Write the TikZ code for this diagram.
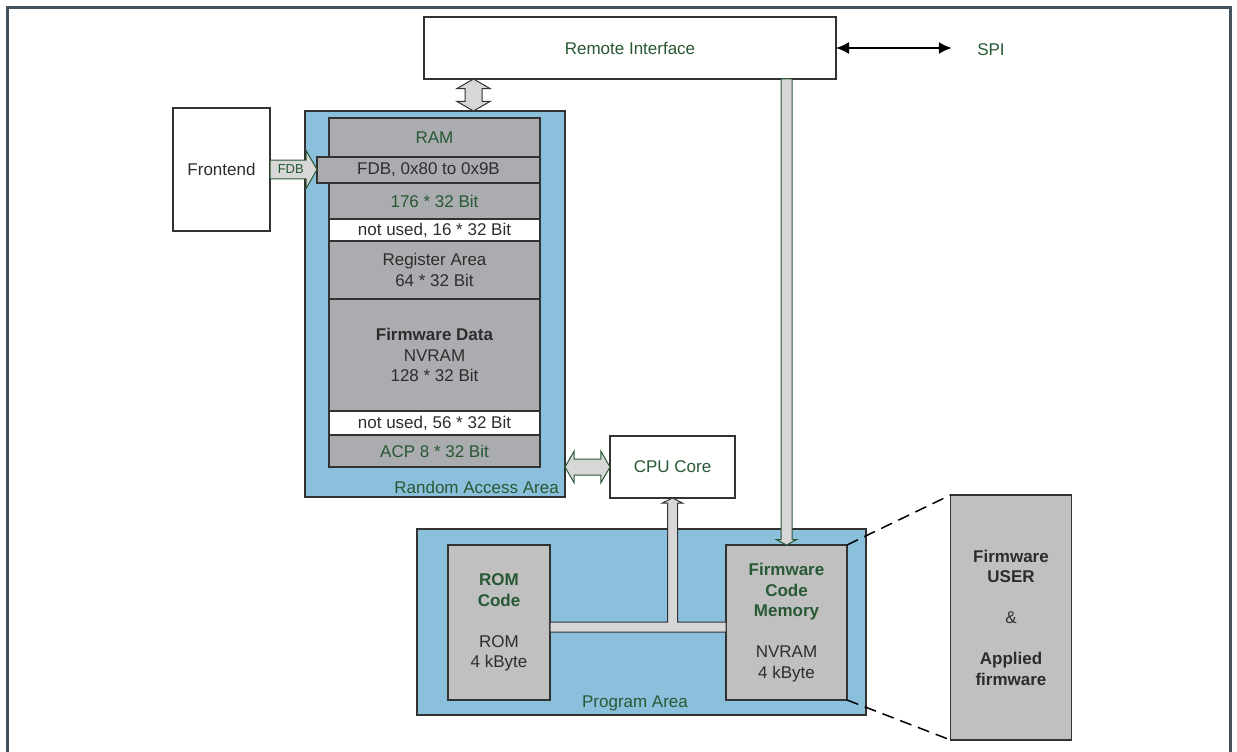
\documentclass[tikz,border=0pt]{standalone}
\usepackage{fontspec}
\setmainfont{Liberation Sans}
\usetikzlibrary{arrows.meta,positioning,calc,shapes.arrows}

\definecolor{areablue}{RGB}{139,192,220}
\definecolor{ramgray}{RGB}{170,172,175}
\definecolor{memgray}{RGB}{192,192,192}
\definecolor{pipegray}{RGB}{215,215,215}
\definecolor{labelgreen}{RGB}{40,88,52}
\definecolor{darktext}{RGB}{45,45,45}
\definecolor{edgegray}{RGB}{50,50,50}
\definecolor{framegray}{RGB}{68,82,94}

\newcommand{\memtitle}[1]{\textcolor{labelgreen}{\bfseries #1}}

\begin{document}
\begin{tikzpicture}[
 x=1pt, y=-1pt,
 font=\fontsize{17}{20.5}\selectfont,
 box/.style={draw=edgegray,line width=1.4pt,inner sep=0pt,outer sep=0pt,align=center,text=darktext},
 area/.style={box,fill=areablue},
 cell/.style={box,fill=ramgray,minimum width=211pt},
 freecell/.style={cell,fill=white},
 memory/.style={box,fill=memgray,minimum height=155pt},
 tag/.style={text=labelgreen},
 pipe/.style={draw=edgegray,fill=pipegray,line width=1pt,inner sep=0pt,outer sep=0pt},
 gpipe/.style={pipe,draw=labelgreen},
 zoomline/.style={draw=black,line width=1.5pt,dash pattern=on 12pt off 7pt},
 spiarr/.style={{Latex[length=13pt,width=12pt]}-{Latex[length=13pt,width=12pt]},line width=1.6pt}
]
\useasboundingbox (0,0) rectangle (1237,752);
\draw[framegray,line width=3pt] (7.5,752) -- (7.5,7.5) -- (1230.5,7.5) -- (1230.5,752);

% interface and frontend
\node[box,tag,fill=white,minimum width=412pt,minimum height=62pt] (ri) at (630,48) {Remote Interface};
\node[tag] (spi) at (991,50) {SPI};
\draw[spiarr,shorten >=22pt] (ri.east) -- (ri.east -| spi.west);
\node[box,fill=white,minimum width=97pt,minimum height=123pt] (front) at (221.5,169.5) {Frontend};

% random access area
\node[area,minimum width=260pt,minimum height=386pt] (raa) at (435,304) {};
\node[cell,tag,minimum height=39pt] (ram) at (434.5,137.5) {RAM};
\node[cell,minimum width=223pt,minimum height=26pt,anchor=north east] (fdb) at (ram.south east) {FDB, 0x80 to 0x9B};
\node[cell,tag,minimum height=36pt,anchor=north east] (r176) at (fdb.south east) {176 * 32 Bit};
\node[freecell,minimum height=22pt,anchor=north east] (free16) at (r176.south east) {not used, 16 * 32 Bit};
\node[cell,minimum height=58pt,anchor=north east] (reg) at (free16.south east) {Register Area\\64 * 32 Bit};
\node[cell,minimum height=112pt,anchor=north east] (fwdata) at (reg.south east) {\textbf{Firmware Data}\\NVRAM\\128 * 32 Bit};
\node[freecell,minimum height=24pt,anchor=north east] (free56) at (fwdata.south east) {not used, 56 * 32 Bit};
\node[cell,tag,minimum height=32pt,anchor=north east] (acp) at (free56.south east) {ACP 8 * 32 Bit};
\node[tag,anchor=base east,inner sep=0pt] (raalabel) at ($(raa.south east)+(-6,-4)$) {Random Access Area};

% cpu
\node[box,tag,fill=white,minimum width=125pt,minimum height=62pt] (cpu) at (672.5,467) {CPU Core};

% program area
\node[area,minimum width=449pt,minimum height=186pt] (pa) at (641.5,622) {};
\node[tag,anchor=base,inner sep=0pt] (palabel) at ($(pa.south)+(-6.5,-8)$) {Program Area};
\node[memory,minimum width=102pt] (rom) at (499,622.5) {\memtitle{ROM}\\\memtitle{Code}\\[20.5pt]ROM\\4 kByte};
\node[memory,minimum width=121pt] (fcm) at (786.5,622.5) {\memtitle{Firmware}\\\memtitle{Code}\\\memtitle{Memory}\\[20.5pt]NVRAM\\4 kByte};
\node[memory,minimum width=121pt,minimum height=245pt] (fwuser) at (1011,617.5) {\textbf{Firmware}\\\textbf{USER}\\[20.5pt]\&\\[20.5pt]\textbf{Applied}\\\textbf{firmware}};

% wide arrows
\node[gpipe,single arrow,tag,font=\fontsize{13}{15}\selectfont,minimum height=47pt,inner xsep=2pt,inner ysep=4.5pt,
  single arrow head extend=9.5pt,single arrow tip angle=120,anchor=tail] (fdbin) at (front.east) {FDB};
\node[pipe,double arrow,rotate=90,minimum height=32pt,inner xsep=0pt,inner ysep=8pt,
  double arrow head extend=8pt,double arrow tip angle=120] (riram) at ($(raa.north)+(38.5,-16)$) {};
\node[gpipe,double arrow,minimum height=45pt,inner xsep=0pt,inner ysep=7.5pt,
  double arrow head extend=8pt,double arrow tip angle=120] (raacpu) at ($(raa.east |- cpu.west)!0.5!(cpu.west)$) {};
\node[gpipe,single arrow,rotate=-90,anchor=tip,minimum height=466pt,inner xsep=0pt,inner ysep=5pt,
  single arrow head extend=4.5pt,single arrow tip angle=124] (rifcm) at (fcm.north) {};

% internal bus
\coordinate (bustop) at ($(rom.east)+(0,-0.5)$);
\coordinate (busbot) at ($(rom.east)+(0,9.5)$);
\draw[pipe] (bustop) -- ($(bustop -| cpu.south)+(-5,0)$) -- ($(cpu.south)+(-5,5)$) -- ($(cpu.south)+(-10,5)$)
  -- (cpu.south) -- ($(cpu.south)+(10,5)$) -- ($(cpu.south)+(5,5)$) -- ($(bustop -| cpu.south)+(5,0)$)
  -- (bustop -| fcm.west) -- (busbot -| fcm.west) -- (busbot) -- cycle;

% zoom of firmware code memory
\draw[zoomline] (fcm.north east) -- (fwuser.north west);
\draw[zoomline] (fcm.south east) -- (fwuser.south west);
\end{tikzpicture}
\end{document}
